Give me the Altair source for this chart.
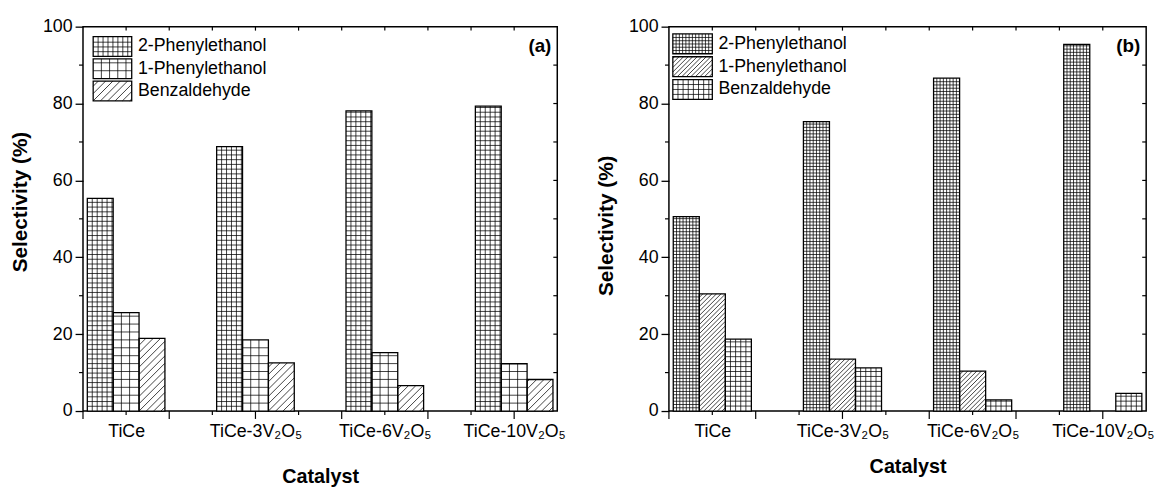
import altair as alt
import pandas as pd

# ---------------- data ----------------
catalysts = ["TiCe", "TiCe-3V₂O₅", "TiCe-6V₂O₅", "TiCe-10V₂O₅"]
products = ["2-Phenylethanol", "1-Phenylethanol", "Benzaldehyde"]

# panel (a) selectivity (%)
a_2pe = [55.3, 68.8, 78.1, 79.3]
a_1pe = [25.6, 18.5, 15.2, 12.3]
a_bz = [18.9, 12.5, 6.6, 8.2]

# panel (b) selectivity (%)
b_2pe = [50.6, 75.3, 86.6, 95.4]
b_1pe = [30.5, 13.5, 10.4, 0.0]
b_bz = [18.7, 11.2, 2.9, 4.6]

y_major_ticks = [0, 20, 40, 60, 80, 100]
y_minor_ticks = [10, 30, 50, 70, 90]
right_ticks = [10, 20, 30, 40, 50, 60, 70, 80, 90]
x_label_ticks = [1, 4, 7, 10]
x_long_ticks = [0, 2, 4, 6, 8, 10]
x_short_ticks = [1, 3, 5, 7, 9]
top_ticks = [1, 2, 3, 4, 5, 6, 7, 8, 9, 10]

# hatch styles (pixel spacing) per product
pat_a = [("grid", 5.0, 4.8), ("grid", 8.3, 8.0), ("diag", 7.4)]
pat_b = [("grid", 3.3, 3.3), ("diag", 4.6), ("grid", 5.2, 5.0)]

XMAX = 11.0
YMAX = 100.0
W_A, W_B, H = 480, 483, 389
FONT = "Liberation Sans"


def hatch(x0, x1, y0, y1, pat, kx, ky):
    segs = []
    if pat[0] == "grid":
        sx, sy = pat[1] / kx, pat[2] / ky
        x = x0 + sx
        while x < x1 - 0.2 * sx:
            segs.append(dict(x=x, y=y0, x2=x, y2=y1))
            x += sx
        y = y0 + sy
        while y < y1 - 0.2 * sy:
            segs.append(dict(x=x0, y=y, x2=x1, y2=y))
            y += sy
    else:
        s = pat[1]
        X0, X1, Y0, Y1 = x0 * kx, x1 * kx, y0 * ky, y1 * ky
        kmin = -int((Y1 - Y0) / s) - 1
        kmax = int((X1 - X0) / s) + 1
        for k in range(kmin, kmax + 1):
            c = X0 + k * s - Y0
            ys = max(Y0, X0 - c)
            ye = min(Y1, X1 - c)
            if ye - ys > 0.3:
                segs.append(dict(x=(ys + c) / kx, y=ys / ky,
                                 x2=(ye + c) / kx, y2=ye / ky))
    return segs


def panel(vals, pats, tag, W, leg, ytp, xtp, ty):
    kx, ky = W / XMAX, H / YMAX
    bars, segs, legs = [], [], []
    for gi, cat in enumerate(catalysts):
        c = 1 + 3 * gi
        for si, prod in enumerate(products):
            v = vals[si][gi]
            if v <= 0:
                continue
            x0 = c - 0.9 + 0.6 * si
            x1 = x0 + 0.6
            bars.append(dict(x0=x0, x1=x1, y0=0.0, y1=v, product=prod, catalyst=cat))
            segs += hatch(x0, x1, 0.0, v, pats[si], kx, ky)
    lx0, lx1, ltop, lh, lpitch, tx = leg
    for si, prod in enumerate(products):
        top = ltop - si * lpitch
        legs.append(dict(x0=lx0, x1=lx1, y0=top - lh, y1=top, label=prod,
                         tx=tx, ty=top - lh / 2))
        segs += hatch(lx0, lx1, top - lh, top, pats[si], kx, ky)

    bars_df = pd.DataFrame(bars)
    segs_df = pd.DataFrame(segs)
    legs_df = pd.DataFrame(legs)

    xs = alt.Scale(domain=[0, XMAX], nice=False, zero=False)
    ys = alt.Scale(domain=[0, YMAX], nice=False, zero=False)

    lab_expr = "[" + ",".join("'" + c + "'" for c in catalysts) + "][indexof([" + \
        ",".join(str(v) for v in x_label_ticks) + "], datum.value)]"

    xax = alt.Axis(values=x_label_ticks, labelExpr=lab_expr, ticks=False, domain=False,
                   grid=False, labelFontSize=18, labelColor="black", labelPadding=12,
                   labelFlush=False, labelOverlap=False, labelFont=FONT,
                   title="Catalyst", titleFontSize=20, titleFontWeight="bold",
                   titleColor="black", titleFont=FONT, titlePadding=xtp)
    yax = alt.Axis(values=y_major_ticks, tickSize=8, tickWidth=1.3, tickColor="black",
                   domain=False, grid=False, labelFontSize=18, labelColor="black",
                   labelPadding=3, labelFont=FONT,
                   title="Selectivity (%)", titleFontSize=21, titleFontWeight="bold",
                   titleColor="black", titleFont=FONT, titlePadding=ytp, titleY=ty)

    def X(f):
        return alt.X(f, scale=xs, axis=xax)

    def Y(f):
        return alt.Y(f, scale=ys, axis=yax)

    base_bars = alt.Chart(bars_df)
    fills = base_bars.mark_rect(fill="white", stroke=None).encode(
        x=X("x0:Q"), x2="x1:Q", y=Y("y1:Q"), y2="y0:Q")
    leg_fill = alt.Chart(legs_df).mark_rect(fill="white", stroke=None).encode(
        x=X("x0:Q"), x2="x1:Q", y=Y("y1:Q"), y2="y0:Q")
    hatch_layer = alt.Chart(segs_df).mark_rule(color="black", strokeWidth=0.75).encode(
        x=X("x:Q"), x2="x2:Q", y=Y("y:Q"), y2="y2:Q")
    outlines = base_bars.mark_rect(filled=False, stroke="black", strokeWidth=1.3).encode(
        x=X("x0:Q"), x2="x1:Q", y=Y("y1:Q"), y2="y0:Q")
    leg_out = alt.Chart(legs_df).mark_rect(filled=False, stroke="black", strokeWidth=1.3).encode(
        x=X("x0:Q"), x2="x1:Q", y=Y("y1:Q"), y2="y0:Q")
    leg_text = alt.Chart(legs_df).mark_text(align="left", baseline="middle", fontSize=18,
                                            font=FONT, color="black").encode(
        x=X("tx:Q"), y=Y("ty:Q"), text="label:N")

    def yrule(vals_, xa, xb):
        return alt.Chart(pd.DataFrame({"v": vals_})).mark_rule(color="black", strokeWidth=1.2).encode(
            y=Y("v:Q"), x=alt.value(xa), x2=alt.value(xb))

    def xrule(vals_, ya, yb):
        return alt.Chart(pd.DataFrame({"v": vals_})).mark_rule(color="black", strokeWidth=1.2).encode(
            x=X("v:Q"), y=alt.value(ya), y2=alt.value(yb))

    ticks = [
        yrule(y_minor_ticks, -4, 0),
        yrule(right_ticks, W - 4, W),
        xrule(x_long_ticks, H, H + 8),
        xrule(x_short_ticks, H, H + 4),
        xrule(top_ticks, 0, 4),
    ]
    tag_text = alt.Chart(pd.DataFrame({"t": [tag]})).mark_text(
        align="right", baseline="middle", fontSize=19, fontWeight="bold", font=FONT,
        color="black").encode(x=alt.value(W - 6), y=alt.value(20), text="t:N")

    return alt.layer(fills, leg_fill, hatch_layer, outlines, leg_out, leg_text,
                     *ticks, tag_text).properties(width=W, height=H)


leg_a = (0.236, 1.13, 97.4, 5.14, 5.78, 1.275)
leg_b = (0.09, 1.0, 98.1, 5.15, 5.93, 1.14)

pa = panel([a_2pe, a_1pe, a_bz], pat_a, "(a)", W_A, leg_a, 12, 26, 177)
pb = panel([b_2pe, b_1pe, b_bz], pat_b, "(b)", W_B, leg_b, 12, 16, 201)

chart = alt.hconcat(pa, pb, spacing=29).properties(
    padding={"left": 9, "top": 14, "right": 5, "bottom": 5},
    background="white",
).configure(font=FONT).configure_view(stroke="black", strokeWidth=1.5)

chart.save("out.html", embed_options={"renderer": "svg", "actions": False})
